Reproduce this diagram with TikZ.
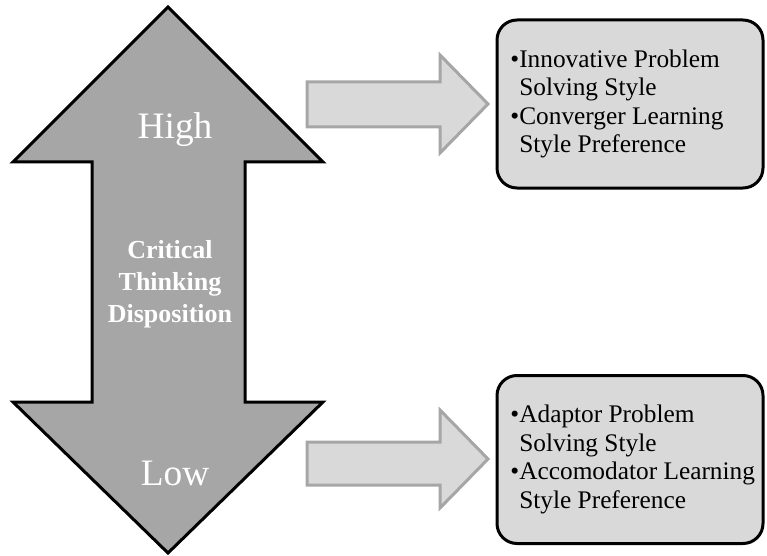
\documentclass[tikz,border=0pt]{standalone}
\usepackage{fontspec}
\setmainfont{Liberation Serif}
\usetikzlibrary{positioning}
\definecolor{darkfill}{HTML}{A6A6A6}
\definecolor{lightfill}{HTML}{D9D9D9}
\begin{document}
\begin{tikzpicture}[x=0.75pt, y=-0.75pt,
  bigarrow/.style = {fill=darkfill, draw=black, line width=2.25pt},
  smallarrow/.style = {fill=lightfill, draw=darkfill, line width=2.25pt},
  box/.style = {shape=rectangle, rounded corners=15pt, draw, fill=lightfill,
    line width=2.25pt, minimum width=199.5pt, minimum height=126pt},
  boxtext/.style = {align=left, inner sep=0pt,
    font=\fontsize{19}{21.4}\selectfont},
  level/.style = {text=white, font=\fontsize{28}{30}\selectfont},
  every node/.style = {align=center}]
  \useasboundingbox (0,0) rectangle (767,556);
  % double arrow
  \draw[bigarrow] (168,7) -- (323,162) -- (245,162) -- (245,402) -- (323,402)
    -- (168,553) -- (13,402) -- (92,402) -- (92,162) -- (13,162) -- cycle;
  \node[level] (high) at (175,130) {High};
  \node[level] (low) at (175,473) {Low};
  \node[text=white, font=\bfseries\fontsize{19.5}{24}\selectfont]
    (ctd) at (170,284) {Critical\\Thinking\\Disposition};
  % arrows to the boxes
  \draw[smallarrow] (307,82) -- (440,82) -- (440,55) -- (488,104) -- (440,153)
    -- (440,127) -- (307,127) -- cycle;
  \draw[smallarrow] (307,442) -- (440,442) -- (440,410) -- (488,459) -- (440,508)
    -- (440,485) -- (307,485) -- cycle;
  % outcome boxes
  \node[box] (hibox) at (630,104) {};
  \node[boxtext, right=11pt of hibox.west] (hitext)
    {•Innovative Problem\\\phantom{•}Solving Style\\•Converger Learning\\\phantom{•}Style Preference};
  \node[box] (lobox) at (630,459.5) {};
  \node[boxtext, right=11pt of lobox.west] (lotext)
    {•Adaptor Problem\\\phantom{•}Solving Style\\•Accomodator Learning\\\phantom{•}Style Preference};
\end{tikzpicture}
\end{document}
